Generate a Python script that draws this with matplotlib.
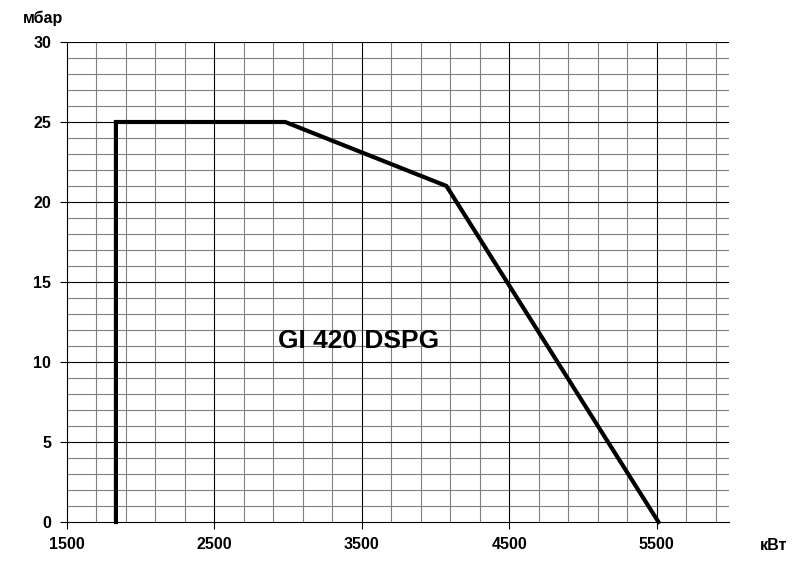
import matplotlib.pyplot as plt
import numpy as np

plt.rcParams['font.family'] = ['Liberation Sans', 'DejaVu Sans']

# рабочее поле горелки
power = [1835, 1835, 2982, 4075, 5512]
pressure = [0, 25, 25, 21, 0]

xticks = [1500, 2500, 3500, 4500, 5500]
yticks = [0, 5, 10, 15, 20, 25, 30]

fig = plt.figure(figsize=(7.94, 5.67), dpi=100)
ax = fig.add_axes([66.5 / 794, 45 / 567, (729 - 66.5) / 794, (522 - 42) / 567])

ax.set_xlim(1500, 5990)
ax.set_ylim(0, 30)

# сетка
for x in np.arange(1700, 6000, 200):
    if x % 1000 != 500:
        ax.axvline(x, color='#808080', lw=0.8, zorder=1)
for y in range(1, 30):
    if y % 5 != 0:
        ax.axhline(y, color='#808080', lw=0.8, zorder=1)
for x in xticks[1:]:
    ax.axvline(x, color='black', lw=0.8, zorder=2)
for y in yticks[1:]:
    ax.axhline(y, color='black', lw=0.8, zorder=2)

ax.plot(power, pressure, color='black', lw=3, solid_joinstyle='miter', zorder=3, clip_on=False)

ax.text(3480, 11.3, 'GI 420 DSPG', fontsize=19, fontweight='bold', ha='center', va='center', zorder=4)

ax.set_xticks(xticks)
ax.set_yticks(yticks)
ax.tick_params(axis='both', direction='out', length=5, width=0.8, labelsize=11.5)
ax.tick_params(axis='y', pad=6)
ax.tick_params(axis='x', pad=6)
for lbl in ax.get_xticklabels() + ax.get_yticklabels():
    lbl.set_fontweight('bold')

for s in ['top', 'right']:
    ax.spines[s].set_visible(False)
for s in ['left', 'bottom']:
    ax.spines[s].set_linewidth(0.8)

fig.text(23 / 794, 1 - 18 / 567, 'мбар', fontsize=11.5, fontweight='bold', va='center', ha='left')
fig.text(787 / 794, 1 - 546 / 567, 'кВт', fontsize=11.5, fontweight='bold', va='center', ha='right')

fig.savefig('out.png', dpi=100)
